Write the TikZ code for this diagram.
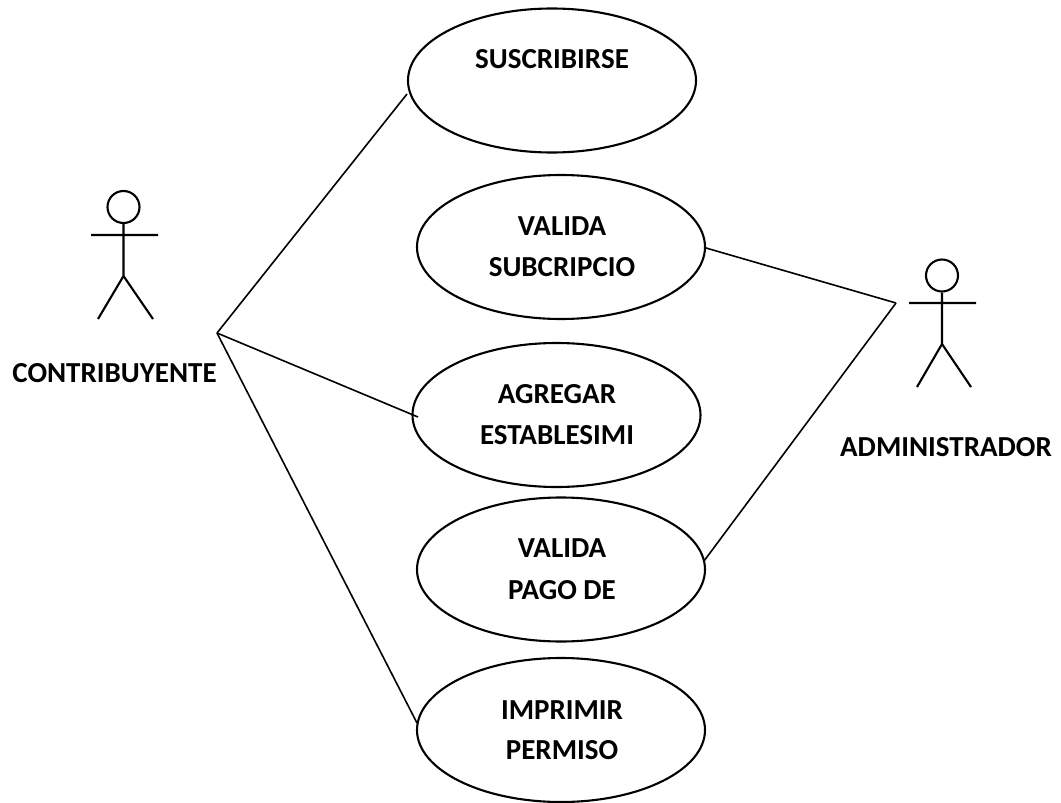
\documentclass[tikz,border=0pt]{standalone}
\usepackage{fontspec}
\setmainfont{Carlito}
\usetikzlibrary{shapes.geometric}
\tikzset{
  usecase/.style={draw=black,line width=2.1pt,ellipse,inner sep=0pt,minimum width=288pt,minimum height=144pt},
  link/.style={draw=black,line width=1.6pt},
  stick/.style={draw=black,line width=2.1pt},
  headc/.style={draw=black,line width=2.1pt,circle,minimum size=32pt,inner sep=0pt},
  lbl/.style={font=\fontsize{29}{34}\selectfont\bfseries,inner sep=0pt,align=center}
}
\begin{document}
\begin{tikzpicture}[x=1pt,y=-1pt]
\useasboundingbox (0,0) rectangle (1061,803);
\path[fill=white] (0,0) rectangle (1061,803);
\node[usecase] (u1) at (552,80.5) {};
\node[usecase] (u2) at (561,247) {};
\node[usecase] (u3) at (556.5,415) {};
\node[usecase] (u4) at (561,569.5) {};
\node[usecase] (u5) at (561,730) {};
\node[lbl] (t1) at (552,59) {SUSCRIBIRSE};
\node[lbl] (t2a) at (562,226) {VALIDA};
\node[lbl] (t2b) at (562,267) {SUBCRIPCIO};
\node[lbl] (t3a) at (557,394) {AGREGAR};
\node[lbl] (t3b) at (557,435) {ESTABLESIMI};
\node[lbl] (t4a) at (562,548) {VALIDA};
\node[lbl] (t4b) at (562,590) {PAGO DE};
\node[lbl] (t5a) at (562,710) {IMPRIMIR};
\node[lbl] (t5b) at (562,750) {PERMISO};
\node[lbl] (c) at (114.5,373) {CONTRIBUYENTE};
\node[lbl] (a) at (946,447) {ADMINISTRADOR};
\coordinate (hubc) at (217,333);
\coordinate (huba) at (896,303);
\coordinate (e1) at (407,94);
\coordinate (e2) at (706,248);
\coordinate (e3) at (418,417);
\coordinate (e4) at (704,561);
\coordinate (e5) at (417,723);
\draw[link] (hubc) -- (e1);
\draw[link] (hubc) -- (e3);
\draw[link] (hubc) -- (e5);
\draw[link] (huba) -- (e2);
\draw[link] (huba) -- (e4);
\node[headc] (h1) at (123.5,207) {};
\coordinate (n1) at (123.5,276);
\coordinate (al1) at (91,235);
\coordinate (ar1) at (158,235);
\coordinate (ll1) at (98,319);
\coordinate (lr1) at (153,319);
\draw[stick] (h1.south) -- (n1) (al1) -- (ar1) (ll1) -- (n1) -- (lr1);
\node[headc] (h2) at (942,275.5) {};
\coordinate (n2) at (942,344);
\coordinate (al2) at (909,303);
\coordinate (ar2) at (976,303);
\coordinate (ll2) at (917,387);
\coordinate (lr2) at (971,387);
\draw[stick] (h2.south) -- (n2) (al2) -- (ar2) (ll2) -- (n2) -- (lr2);
\end{tikzpicture}
\end{document}
